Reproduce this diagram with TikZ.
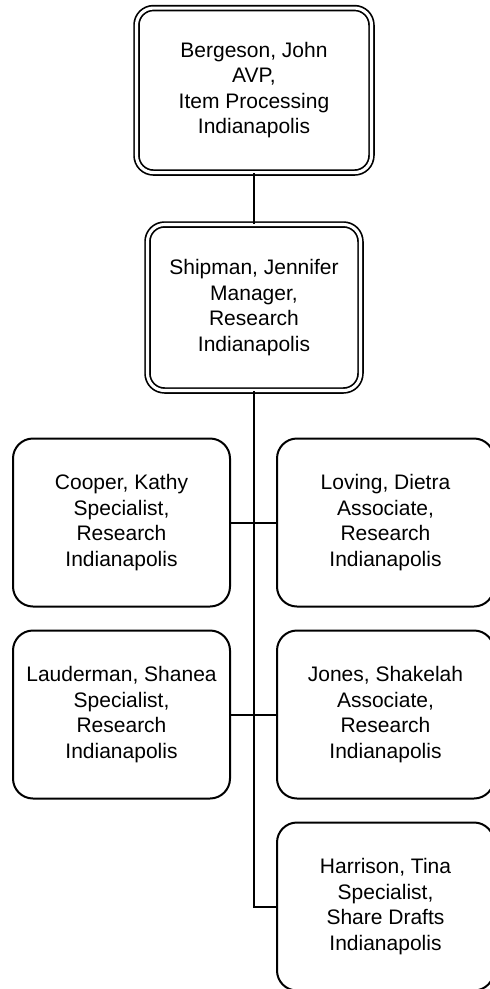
\documentclass[tikz,border=0pt]{standalone}
\usepackage{fontspec}
\setmainfont{Liberation Sans}
\begin{document}
\begin{tikzpicture}[x=1pt,y=1pt,
  person/.style={draw=black, line width=2pt, rounded corners=20pt,
    minimum width=217pt, minimum height=168pt, inner sep=0pt,
    align=center, font=\fontsize{21}{25.5}\selectfont},
  head/.style={person, double, line width=1.7pt, double distance=3.1pt,
    rounded corners=17pt},
  link/.style={line width=2pt}]
\useasboundingbox (0,0) rectangle (490,-989);
\clip (0,0) rectangle (490,-989);
\fill[white] (0,0) rectangle (490,-989);

\node[head, minimum width=235pt, minimum height=164.5pt] (bergeson) at (254,-90.3)
  {Bergeson, John\\AVP,\\Item Processing\\Indianapolis};
\node[head, minimum width=213pt, minimum height=166pt] (shipman) at (254,-307.5)
  {Shipman, Jennifer\\Manager,\\Research\\Indianapolis};
\node[person] (cooper) at (121.5,-522.5)
  {Cooper, Kathy\\Specialist,\\Research\\Indianapolis};
\node[person] (loving) at (385.5,-522.5)
  {Loving, Dietra\\Associate,\\Research\\Indianapolis};
\node[person] (lauderman) at (121.5,-714.5)
  {Lauderman, Shanea\\Specialist,\\Research\\Indianapolis};
\node[person] (jones) at (385.5,-714.5)
  {Jones, Shakelah\\Associate,\\Research\\Indianapolis};
\node[person] (harrison) at (385.5,-906.5)
  {Harrison, Tina\\Specialist,\\Share Drafts\\Indianapolis};

\coordinate (tend) at (shipman.south |- harrison.west);
\draw[link] (bergeson.south) -- (shipman.north);
\draw[link] (shipman.south) -- (tend) -- (harrison.west);
\draw[link] (cooper.east) -- (loving.west);
\draw[link] (lauderman.east) -- (jones.west);
\end{tikzpicture}
\end{document}
